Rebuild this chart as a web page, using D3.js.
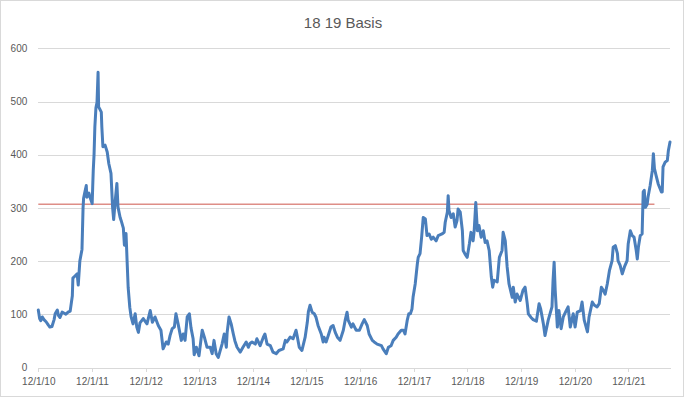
<!DOCTYPE html>
<html>
<head>
<meta charset="utf-8">
<script src="https://cdn.jsdelivr.net/npm/d3@7"></script>
<style>
  html, body { margin: 0; padding: 0; background: #fff; }
  svg { display: block; }
</style>
</head>
<body>
<script>
// ---------- DATA ----------
const title = "18 19 Basis";
const yTickValues = [0, 100, 200, 300, 400, 500, 600];
const xTickLabels = ["12/1/10","12/1/11","12/1/12","12/1/13","12/1/14","12/1/15",
                     "12/1/16","12/1/17","12/1/18","12/1/19","12/1/20","12/1/21"];
// dates as decimal years
const basisTimes = [
 2010.915,2010.94,2010.96,2010.99,2011.02,2011.06,2011.10,2011.13,2011.17,2011.21,
 2011.23,2011.27,2011.29,2011.32,2011.36,2011.40,2011.43,2011.47,2011.51,2011.55,
 2011.56,2011.60,2011.64,2011.66,2011.69,2011.73,2011.75,2011.76,2011.78,2011.81,
 2011.82,2011.86,2011.88,2011.92,2011.93,2011.94,2011.955,2011.97,2011.99,2012.01,
 2012.03,2012.04,2012.06,2012.09,2012.10,2012.12,2012.16,2012.20,2012.23,2012.27,
 2012.30,2012.32,2012.35,2012.38,2012.40,2012.44,2012.46,2012.50,2012.52,2012.55,
 2012.57,2012.59,2012.62,2012.645,2012.68,2012.72,2012.75,2012.78,2012.81,2012.87,
 2012.94,2013.00,2013.04,2013.09,2013.15,2013.20,2013.24,2013.30,2013.335,2013.37,
 2013.41,2013.45,2013.48,2013.52,2013.58,2013.615,2013.65,2013.69,2013.73,2013.76,
 2013.80,2013.82,2013.86,2013.91,2013.95,2013.97,2014.01,2014.06,2014.12,2014.155,
 2014.19,2014.23,2014.27,2014.30,2014.34,2014.38,2014.42,2014.435,2014.47,2014.51,
 2014.55,2014.58,2014.62,2014.68,2014.73,2014.79,2014.83,2014.86,2014.90,2014.96,
 2014.99,2015.05,2015.11,2015.14,2015.18,2015.24,2015.29,2015.35,2015.40,2015.48,
 2015.52,2015.55,2015.61,2015.665,2015.72,2015.74,2015.78,2015.83,2015.89,2015.93,
 2015.95,2015.98,2016.02,2016.06,2016.09,2016.13,2016.19,2016.225,2016.24,2016.28,
 2016.32,2016.37,2016.41,2016.45,2016.49,2016.54,2016.60,2016.635,2016.67,2016.69,
 2016.75,2016.78,2016.84,2016.90,2016.95,2016.99,2017.045,2017.08,2017.14,2017.175,
 2017.23,2017.31,2017.34,2017.40,2017.44,2017.49,2017.53,2017.585,2017.62,2017.68,
 2017.72,2017.75,2017.79,2017.82,2017.85,2017.88,2017.90,2017.94,2017.98,2017.996,
 2018.03,2018.06,2018.09,2018.13,2018.16,2018.20,2018.24,2018.275,2018.33,2018.37,
 2018.44,2018.48,2018.50,2018.54,2018.555,2018.57,2018.61,2018.65,2018.685,2018.72,
 2018.74,2018.78,2018.82,2018.835,2018.87,2018.91,2018.95,2018.98,2019.02,2019.04,
 2019.07,2019.10,2019.13,2019.17,2019.21,2019.245,2019.28,2019.32,2019.36,2019.385,
 2019.41,2019.47,2019.51,2019.56,2019.58,2019.62,2019.655,2019.69,2019.75,2019.77,
 2019.805,2019.84,2019.90,2019.95,2019.99,2020.03,2020.05,2020.10,2020.14,2020.20,
 2020.25,2020.28,2020.33,2020.36,2020.42,2020.49,2020.51,2020.53,2020.55,2020.59,
 2020.62,2020.66,2020.70,2020.755,2020.79,2020.83,2020.885,2020.92,2020.96,2021.02,
 2021.05,2021.09,2021.15,2021.18,2021.24,2021.28,2021.33,2021.37,2021.41,2021.445,
 2021.48,2021.52,2021.56,2021.61,2021.63,2021.67,2021.71,2021.72,2021.76,2021.80,
 2021.84,2021.89,2021.91,2021.95,2021.985,2022.02,2022.06,2022.08,2022.10,2022.135,
 2022.17,2022.19,2022.21,2022.23,2022.265,2022.28,2022.32,2022.36,2022.38,2022.40,
 2022.43,2022.47,2022.53,2022.545,2022.56,2022.60,2022.64,2022.66,2022.69
];
const basisValues = [
 108,92,88,95,90,86,80,76,77,90,
 101,108,98,94,104,102,100,104,106,135,
 168,172,176,155,200,222,300,318,328,342,
 320,328,320,308,340,370,400,452,488,498,
 555,490,486,480,452,415,418,405,383,365,
 301,278,314,346,302,282,276,262,230,252,
 200,150,113,95,82,101,76,66,84,92,
 82,107,85,95,79,70,35,48,44,60,
 73,76,101,82,51,63,51,95,101,75,
 54,24,38,22,55,70,57,38,38,26,
 51,26,19,30,44,63,38,66,95,82,
 63,50,38,29,38,48,38,45,48,44,
 54,41,57,63,44,41,29,26,32,35,
 51,48,57,54,70,60,38,32,57,85,
 105,117,104,101,95,79,63,48,57,48,
 60,76,79,66,57,51,70,89,104,89,
 76,82,70,70,82,90,79,63,51,48,
 44,41,35,26,38,41,51,57,63,70,
 70,63,88,101,101,110,132,157,195,207,
 214,245,282,279,248,251,241,245,238,248,
 251,254,273,292,323,295,282,289,264,276,
 298,292,257,220,213,207,232,254,238,257,
 310,257,267,245,257,235,238,220,170,151,
 164,161,207,220,254,238,189,157,132,151,
 123,138,126,145,151,120,101,94,90,87,
 120,110,82,60,89,114,164,198,145,76,
 107,73,95,107,114,76,101,76,104,107,
 123,89,67,95,123,117,114,120,151,145,
 138,157,182,201,226,229,214,201,192,176,
 189,201,232,257,248,245,220,204,226,248,
 251,330,333,301,307,320,342,370,402,374,
 361,345,330,330,377,386,389,408,424
];
const referenceValue = 307;
const referenceStart = 2010.915;
const referenceEnd = 2022.40;

// ---------- LAYOUT ----------
const W = 684, H = 397;
const margin = { left: 38.3, right: 14, top: 48.3, bottom: 29.5 };

function decToDate(t) {
  const y = Math.floor(t);
  const a = Date.UTC(y, 0, 1), b = Date.UTC(y + 1, 0, 1);
  return new Date(a + (t - y) * (b - a));
}
const parseTick = d3.utcParse("%m/%d/%y");
const tickDates = xTickLabels.map(parseTick);

const series = basisTimes.map((t, i) => ({ date: decToDate(t), value: basisValues[i] }));
const firstDate = tickDates[0];
const lastDate = series[series.length - 1].date;

const x = d3.scaleUtc().domain([firstDate, lastDate]).range([margin.left, W - margin.right]);
const y = d3.scaleLinear().domain([0, 600]).range([H - margin.bottom, margin.top]);

const svg = d3.select("body").append("svg").attr("width", W).attr("height", H);

svg.append("rect").attr("x", 0.5).attr("y", 0.5).attr("width", W - 1).attr("height", H - 1)
  .attr("fill", "#fff").attr("stroke", "#D9D9D9");

// title
svg.append("text").attr("x", 343).attr("y", 28).attr("text-anchor", "middle")
  .attr("font-family", "Liberation Sans, Arial, sans-serif").attr("font-size", 15)
  .attr("fill", "#595959").text(title);

// gridlines + y labels
const yAxis = d3.axisLeft(y).tickValues(yTickValues).tickSize(-(W - margin.right - margin.left)).tickPadding(11);
const gy = svg.append("g").attr("transform", `translate(${margin.left},0)`).call(yAxis);
gy.select(".domain").remove();
gy.selectAll(".tick line").attr("stroke", "#D9D9D9").attr("stroke-width", 1)
  .attr("shape-rendering", "crispEdges")
  .filter(d => d === 0).remove();
gy.selectAll(".tick text").attr("font-family", "Liberation Sans, Arial, sans-serif")
  .attr("font-size", 10).attr("fill", "#595959");

// x axis
const xAxis = d3.axisBottom(x).tickValues(tickDates).tickFormat((d, i) => xTickLabels[i])
  .tickSize(4).tickSizeOuter(0).tickPadding(6);
const gx = svg.append("g").attr("transform", `translate(0,${y(0)})`).call(xAxis);
gx.select(".domain").attr("stroke", "#D9D9D9").attr("shape-rendering", "crispEdges");
gx.selectAll(".tick line").attr("stroke", "#D9D9D9").attr("shape-rendering", "crispEdges");
gx.selectAll(".tick text").attr("font-family", "Liberation Sans, Arial, sans-serif")
  .attr("font-size", 10).attr("fill", "#595959");

// reference line
const refData = [referenceStart, referenceEnd].map(t => ({ date: decToDate(t), value: referenceValue }));
refData[0].date = firstDate;
const line = d3.line().x(d => x(d.date)).y(d => y(d.value));
svg.append("path").datum(refData).attr("d", line)
  .attr("fill", "none").attr("stroke", "#DE8E87").attr("stroke-width", 1.6);

// basis line
svg.append("path").datum(series).attr("d", line)
  .attr("fill", "none").attr("stroke", "#4A7EBB").attr("stroke-width", 3)
  .attr("stroke-linejoin", "round").attr("stroke-linecap", "round");
</script>
</body>
</html>
